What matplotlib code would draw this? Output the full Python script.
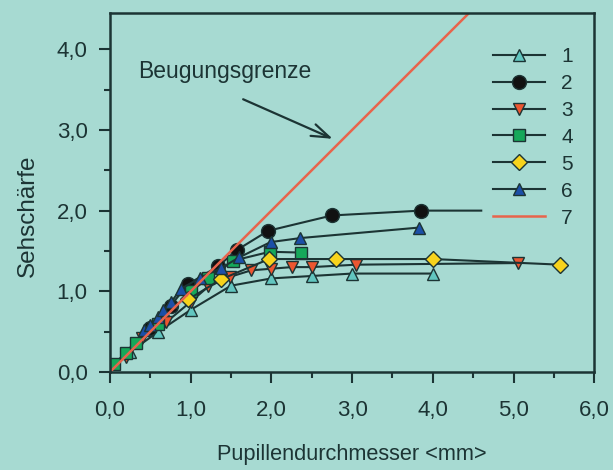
import numpy as np
import matplotlib
matplotlib.use("Agg")
import matplotlib.pyplot as plt
from matplotlib.ticker import MultipleLocator, FuncFormatter

plt.rcParams['font.family'] = ['Liberation Sans', 'DejaVu Sans']

# Data
x1 = [0.25, 0.6, 1.0, 1.5, 2.0, 2.5, 3.0, 4.0]
y1 = [0.25, 0.5, 0.77, 1.07, 1.16, 1.19, 1.22, 1.22]

x2 = [0.5, 0.75, 0.97, 1.34, 1.57, 1.96, 2.75, 3.85, 4.6]
y2 = [0.55, 0.82, 1.09, 1.31, 1.51, 1.75, 1.94, 2.0, 2.0]

x3 = [0.2, 0.4, 0.7, 1.0, 1.22, 1.49, 1.75, 2.0, 2.25, 2.5, 3.05, 5.05]
y3 = [0.18, 0.42, 0.62, 0.87, 1.06, 1.18, 1.26, 1.28, 1.3, 1.3, 1.33, 1.35]

x4 = [0.05, 0.2, 0.32, 0.6, 1.0, 1.22, 1.53, 1.98, 2.37]
y4 = [0.1, 0.24, 0.36, 0.6, 1.0, 1.16, 1.38, 1.49, 1.48]

x5 = [0.97, 1.38, 1.97, 2.8, 4.0, 5.58]
y5 = [0.9, 1.15, 1.4, 1.4, 1.4, 1.33]

x6 = [0.42, 0.5, 0.6, 0.66, 0.76, 0.88, 1.12, 1.38, 1.6, 1.99, 2.36, 3.83]
y6 = [0.52, 0.58, 0.68, 0.77, 0.87, 1.03, 1.17, 1.29, 1.42, 1.61, 1.66, 1.79]

x7 = [0.0, 4.6]
y7 = [0.0, 4.6]

bg = '#a7dad2'
ink = '#1c3434'

fig = plt.figure(figsize=(6.13, 4.70), dpi=100, facecolor=bg)
ax = fig.add_axes([0.1794, 0.2085, 0.79, 0.764], facecolor=bg)

lk = dict(color=ink, lw=1.5, mec=ink, mew=1.0, ms=9)
ax.plot(x1, y1, marker='^', mfc='#62c6c0', label='1', **lk)
ax.plot(x2, y2, marker='o', mfc='#111111', label='2',
        markevery=list(range(len(x2) - 1)), **dict(lk, ms=10))
ax.plot(x3, y3, marker='v', mfc='#ec5630', label='3', **lk)
ax.plot(x4, y4, marker='s', mfc='#16a85a', label='4', **dict(lk, ms=8.5))
ax.plot(x5, y5, marker='D', mfc='#f7d31c', label='5', **dict(lk, ms=8))
ax.plot(x6, y6, marker='^', mfc='#1c4fa8', label='6', **lk)
ax.plot(x7, y7, color='#e8644c', lw=1.8, label='7')

# Label + arrow pointing at the diffraction limit
ax.text(0.35, 3.72, 'Beugungsgrenze', fontsize=16.5, color=ink,
        va='center', ha='left')
ax.annotate('', xy=(2.76, 2.89), xytext=(1.65, 3.38),
            arrowprops=dict(arrowstyle='->,head_length=1.3,head_width=0.45',
                            color=ink, lw=1.6, shrinkA=0, shrinkB=0))

ax.set_xlim(0, 6)
ax.set_ylim(0, 4.45)
ax.xaxis.set_major_locator(MultipleLocator(1))
ax.xaxis.set_minor_locator(MultipleLocator(0.5))
ax.yaxis.set_major_locator(MultipleLocator(1))
ax.yaxis.set_minor_locator(MultipleLocator(0.5))
fmt = FuncFormatter(lambda v, p: ('%.1f' % v).replace('.', ','))
ax.xaxis.set_major_formatter(fmt)
ax.yaxis.set_major_formatter(fmt)
ax.tick_params(which='major', length=8, width=1.5, color=ink, labelcolor=ink,
               labelsize=16, direction='out')
ax.tick_params(axis='x', which='major', pad=12)
ax.tick_params(axis='y', which='major', pad=8)
ax.tick_params(which='minor', length=4, width=1.5, color=ink, direction='out')

for s in ax.spines.values():
    s.set_color(ink)
    s.set_linewidth(1.8)

ax.set_xlabel('Pupillendurchmesser <mm>', fontsize=15.7, color=ink, labelpad=17)
ax.set_ylabel('Sehschärfe', fontsize=17.5, color=ink, va='center')
ax.yaxis.set_label_coords(-0.17, 0.435)

leg = ax.legend(loc='upper left', bbox_to_anchor=(0.79, 0.905), frameon=False,
                fontsize=15, handlelength=2.5, labelspacing=0.38,
                borderpad=0, handletextpad=0.8, borderaxespad=0)
for t in leg.get_texts():
    t.set_color(ink)

fig.savefig('out.png', dpi=100, facecolor=bg)
